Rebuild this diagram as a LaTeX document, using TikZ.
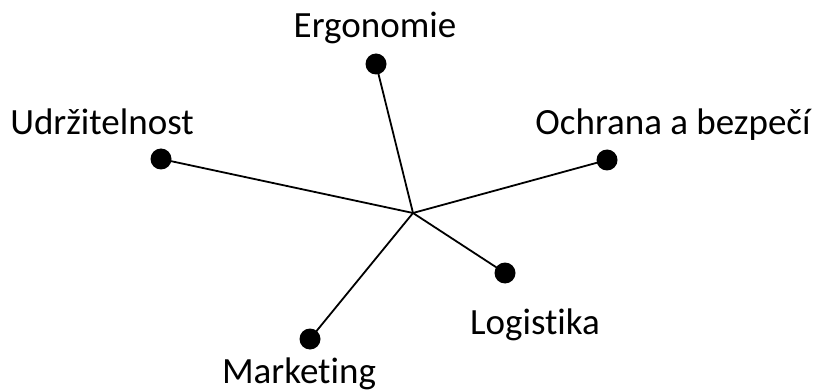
\documentclass[tikz,border=0pt]{standalone}
\usepackage{fontspec}
\setmainfont[Ligatures=NoCommon]{Carlito}
\begin{document}
\begin{tikzpicture}[x=1pt,y=-1pt,
  dot/.style={circle,fill=black,inner sep=0pt,minimum size=21pt},
  lbl/.style={anchor=base,inner sep=0pt,font=\fontsize{37}{44}\selectfont},
  spoke/.style={line width=1.8pt}]
\useasboundingbox (0,0) rectangle (819,390);
\coordinate (c) at (413,213);
\node[dot] (erg) at (376,64) {};
\node[dot] (udr) at (161,159) {};
\node[dot] (och) at (607,160) {};
\node[dot] (log) at (505,273) {};
\node[dot] (mar) at (310,339) {};
\draw[spoke] (c) -- (erg.center);
\draw[spoke] (c) -- (udr.center);
\draw[spoke] (c) -- (och.center);
\draw[spoke] (c) -- (log.center);
\draw[spoke] (c) -- (mar.center);
\node[lbl] (terg) at (375,38) {Ergonomie};
\node[lbl] (tudr) at (102,135) {Udržitelnost};
\node[lbl] (toch) at (673,135) {Ochrana a bezpečí};
\node[lbl] (tlog) at (535,334) {Logistika};
\node[lbl] (tmar) at (299,383) {Marketing};
\end{tikzpicture}
\end{document}
